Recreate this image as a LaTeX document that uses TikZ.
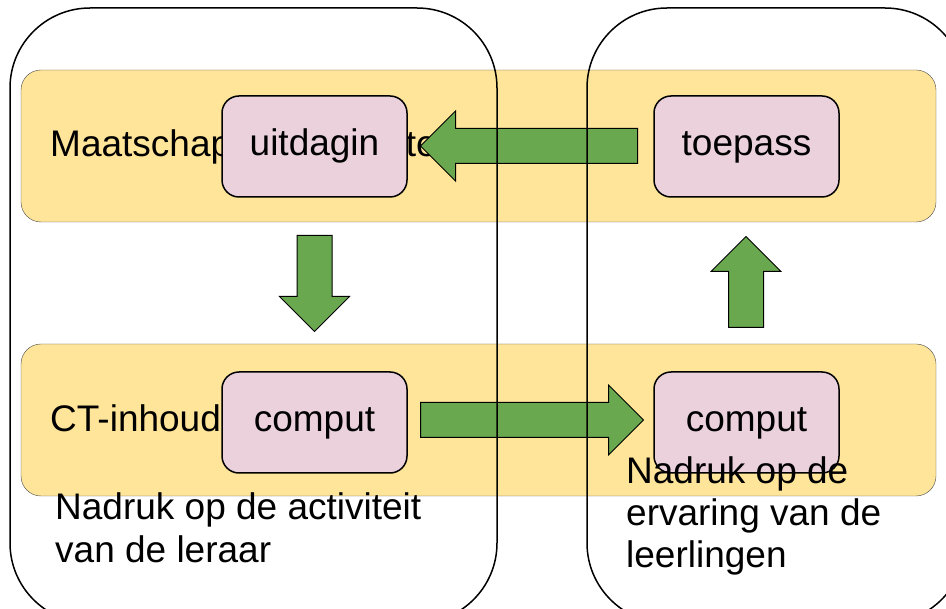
\documentclass[tikz,border=0pt]{standalone}
\usepackage{fontspec}
\setmainfont{Liberation Sans}
\usetikzlibrary{shapes.arrows}
\definecolor{bandyellow}{HTML}{FFE599}
\definecolor{cardpink}{HTML}{EAD1DC}
\definecolor{arrowgreen}{HTML}{6AA84F}

\begin{document}
\begin{tikzpicture}
[x=1pt,y=-1pt,%
  every node/.style={inner sep=0pt,font=\fontsize{37pt}{42.5pt}\selectfont},%
  band/.style={draw=black!70,fill=bandyellow,rounded corners=20pt,minimum width=915pt,minimum height=152pt},%
  card/.style={draw,line width=1.5pt,fill=cardpink,rounded corners=17pt,minimum width=185pt,minimum height=101pt,text height=27pt,text depth=8pt},%
  zone/.style={draw,line width=1.5pt,rounded corners=80pt,minimum height=615pt},%
  flow/.style={single arrow,draw,line width=1pt,fill=arrowgreen,inner xsep=0pt,inner ysep=17pt,single arrow head extend=17.5pt,anchor=tail}]
\clip (0,0) rectangle (946,609);
\node[band] (upperband) at (478.5,146) {};
\node[band] (lowerband) at (478.5,420) {};
\node[anchor=base west] (maatschappij) at (50,157) {Maatschappelijke context};
\node[anchor=base west] (ctinhoud) at (50,432) {CT-inhoud};
\node[card] (uitdaging) at (314.5,146.5) {uitdagin};
\node[card] (toepassing) at (746.5,146.5) {toepass};
\node[card] (comput1) at (314.5,422.5) {comput};
\node[card] (comput2) at (746.5,422.5) {comput};
\node[flow,minimum height=217pt,rotate=180] (backarrow) at (638,146) {};
\node[flow,minimum height=96pt,rotate=-90] (downarrow) at (314.5,235) {};
\node[flow,minimum height=91pt,rotate=90] (uparrow) at (746,328) {};
\node[flow,minimum height=223pt] (forwardarrow) at (420,420) {};
\node[zone,minimum width=487pt] (leraarzone) at (253.5,315.5) {};
\node[zone,minimum width=378pt] (leerlingzone) at (776,315.5) {};
\node[anchor=base west,align=left] (leraar) at (55,562) {Nadruk op de activiteit\\van de leraar};
\node[anchor=base west,align=left] (leerlingen) at (626,568) {Nadruk op de\\ervaring van de\\leerlingen};
\end{tikzpicture}
\end{document}
